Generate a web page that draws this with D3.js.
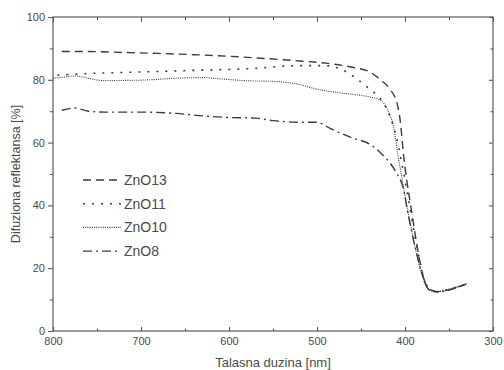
<!DOCTYPE html>
<html>
<head>
<meta charset="utf-8">
<script src="https://cdn.jsdelivr.net/npm/d3@7"></script>
<style>
  html, body { margin: 0; padding: 0; background: #fff; }
  svg { display: block; font-family: "Liberation Sans", Arial, sans-serif; }
</style>
</head>
<body>
<div id="chart"></div>
<script>
// Diffuse reflectance spectra of ZnO samples

const xTicks = [800, 700, 600, 500, 400, 300]
const yTicks = [0, 20, 40, 60, 80, 100]

// [wavelength nm, reflectance %]
const zno13 = [[790,89],[760,89],[720,88.7],[680,88.4],[640,88],[600,87.5],[560,86.8],[520,86],[490,85.3],[460,84],[440,82.5],[428,80],[417,77],[409,72.5],[405,66],[402,57],[398,48],[393,39],[388,30],[383,22],[378,16],[372,13],[365,12.5],[355,12.8],[345,13.5],[335,14.5],[330,15]]
const zno11 = [[795,81.5],[760,82],[700,82.5],[640,83],[580,83.5],[520,84.5],[490,84.5],[470,83],[451,79.5],[440,77],[428,74],[418,69],[410,62],[404,54],[398,45],[393,37],[388,29],[383,22],[378,16],[372,13],[365,12.5],[355,13],[345,13.6],[335,14.5],[330,15]]
const zno10 = [[800,80.5],[790,80.8],[775,81.2],[760,80.5],[745,79.8],[720,79.8],[690,80],[660,80.5],[630,80.7],[610,80.3],[580,79.7],[550,79.5],[520,78.5],[500,77],[470,75.7],[440,74.5],[428,73.5],[419,70],[413,65],[408,56],[403,48],[398,40],[393,33],[388,26],[383,20],[377,15],[372,13],[365,12.5],[355,13],[345,13.8],[335,14.5],[330,15]]
const zno8 = [[790,70.3],[775,71],[760,70],[740,69.7],[700,69.7],[660,69.3],[630,68.5],[600,68],[570,67.8],[550,67],[520,66.5],[500,66.5],[485,64.5],[460,61.5],[440,59.5],[425,56],[417,53.5],[409,50],[402,45.5],[397,38],[392,31],[387,25],[382,19.5],[376,15],[370,13],[362,12.5],[350,13],[340,14],[330,15]]

const seriesNames = ['ZnO13', 'ZnO11', 'ZnO10', 'ZnO8']
const seriesData = [zno13, zno11, zno10, zno8]
const seriesDash = ['8,5', '2,7', '1,1.2', '9,4,2,4']
const seriesWidth = [1.4, 1.6, 1.1, 1.4]

const W = 504, H = 370
const m = { left: 53, right: 11, top: 17, bottom: 39 }

const svg = d3.select('#chart').append('svg')
  .attr('width', W)
  .attr('height', H)

const x = d3.scaleLinear().domain([800, 300]).range([m.left, W - m.right])
const y = d3.scaleLinear().domain([0, 100]).range([H - m.bottom, m.top])

const axisColor = '#5a5a5a'
const textColor = '#4a4a4a'
const lineColor = '#3c3c3c'

// frame
svg.append('rect')
  .attr('x', m.left).attr('y', m.top)
  .attr('width', W - m.left - m.right)
  .attr('height', H - m.top - m.bottom)
  .attr('fill', 'none')
  .attr('stroke', axisColor)
  .attr('stroke-width', 1.2)

function styleAxis(g) {
  g.select('.domain').remove()
  g.selectAll('line').attr('stroke', axisColor).attr('stroke-width', 1.1)
  g.selectAll('text').attr('fill', textColor).attr('font-size', 11)
}

// left axis, ticks outward
const yMinor = d3.range(10, 100, 20)
svg.append('g')
  .attr('transform', `translate(${m.left},0)`)
  .call(d3.axisLeft(y).tickValues(yTicks).tickSize(5).tickPadding(3))
  .call(styleAxis)
svg.append('g')
  .attr('transform', `translate(${m.left},0)`)
  .call(d3.axisLeft(y).tickValues(yMinor).tickSize(3).tickFormat(''))
  .call(styleAxis)

// right axis, ticks inward
svg.append('g')
  .attr('transform', `translate(${W - m.right},0)`)
  .call(d3.axisLeft(y).tickValues(yTicks).tickSize(4).tickFormat(''))
  .call(styleAxis)
svg.append('g')
  .attr('transform', `translate(${W - m.right},0)`)
  .call(d3.axisLeft(y).tickValues(yMinor).tickSize(2.5).tickFormat(''))
  .call(styleAxis)

// bottom axis, ticks inward
const xMinor = d3.range(750, 300, -100)
svg.append('g')
  .attr('transform', `translate(0,${H - m.bottom})`)
  .call(d3.axisTop(x).tickValues(xTicks).tickSize(4).tickFormat(''))
  .call(styleAxis)
svg.append('g')
  .attr('transform', `translate(0,${H - m.bottom})`)
  .call(d3.axisTop(x).tickValues(xMinor).tickSize(2.5).tickFormat(''))
  .call(styleAxis)
svg.append('g')
  .attr('transform', `translate(0,${H - m.bottom})`)
  .call(d3.axisBottom(x).tickValues(xTicks).tickSize(0).tickPadding(6))
  .call(styleAxis)

// top axis, ticks inward
svg.append('g')
  .attr('transform', `translate(0,${m.top})`)
  .call(d3.axisBottom(x).tickValues(xTicks).tickSize(5).tickFormat(''))
  .call(styleAxis)
svg.append('g')
  .attr('transform', `translate(0,${m.top})`)
  .call(d3.axisBottom(x).tickValues(xMinor).tickSize(3).tickFormat(''))
  .call(styleAxis)

// axis titles
svg.append('text')
  .attr('x', (m.left + W - m.right) / 2)
  .attr('y', H - 3)
  .attr('text-anchor', 'middle')
  .attr('fill', textColor)
  .attr('font-size', 13)
  .text('Talasna duzina [nm]')

svg.append('text')
  .attr('transform', `translate(20,${(m.top + H - m.bottom) / 2}) rotate(-90)`)
  .attr('text-anchor', 'middle')
  .attr('fill', textColor)
  .attr('font-size', 12.5)
  .text('Difuziona reflektansa [%]')

// curves
const line = d3.line()
  .x(d => x(d[0]))
  .y(d => y(d[1]))
  .curve(d3.curveMonotoneX)

seriesData.forEach((data, i) => {
  svg.append('path')
    .datum(data)
    .attr('fill', 'none')
    .attr('stroke', lineColor)
    .attr('stroke-width', seriesWidth[i])
    .attr('stroke-dasharray', seriesDash[i])
    .attr('d', line)
})

// legend
const legend = svg.append('g').attr('transform', 'translate(83,180)')
seriesNames.forEach((name, i) => {
  const row = legend.append('g').attr('transform', `translate(0,${i * 23.7})`)
  row.append('line')
    .attr('x1', 0).attr('x2', 38)
    .attr('stroke', lineColor)
    .attr('stroke-width', seriesWidth[i])
    .attr('stroke-dasharray', seriesDash[i])
  row.append('text')
    .attr('x', 41)
    .attr('y', 5)
    .attr('fill', textColor)
    .attr('font-size', 14)
    .text(name)
})
</script>
</body>
</html>
